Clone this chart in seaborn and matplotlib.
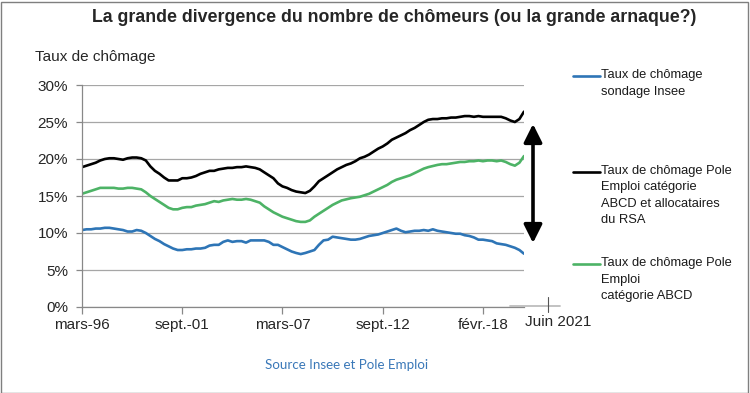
import matplotlib.pyplot as plt
import seaborn as sns
import pandas as pd
from matplotlib.lines import Line2D
from matplotlib.patches import Rectangle

# quarterly values, mars 1996 -> juin 2020
dates = pd.date_range("1996-03-01", "2020-06-01", freq="3MS")

insee = [10.4, 10.5, 10.5, 10.6, 10.6, 10.7, 10.7, 10.6, 10.5, 10.4,
         10.2, 10.2, 10.4, 10.3, 10.0, 9.6, 9.2, 8.9, 8.5, 8.2,
         7.9, 7.7, 7.7, 7.8, 7.8, 7.9, 7.9, 8.0, 8.3, 8.4,
         8.4, 8.8, 9.0, 8.8, 8.9, 8.9, 8.7, 9.0, 9.0, 9.0,
         9.0, 8.8, 8.4, 8.4, 8.1, 7.8, 7.5, 7.3, 7.15, 7.3,
         7.5, 7.7, 8.4, 9.0, 9.1, 9.5, 9.4, 9.3, 9.2, 9.1,
         9.1, 9.2, 9.4, 9.6, 9.7, 9.8, 10.0, 10.2, 10.4, 10.6,
         10.3, 10.1, 10.2, 10.3, 10.3, 10.4, 10.3, 10.5, 10.3, 10.2,
         10.1, 10.0, 9.9, 9.9, 9.7, 9.6, 9.4, 9.1, 9.1, 9.0,
         8.9, 8.6, 8.5, 8.4, 8.2, 8.0, 7.7, 7.2]

pe_rsa = [18.9, 19.1, 19.3, 19.5, 19.8, 20.0, 20.1, 20.1, 20.0, 19.9,
          20.1, 20.2, 20.2, 20.1, 19.8, 19.0, 18.4, 18.0, 17.5, 17.1,
          17.1, 17.1, 17.4, 17.4, 17.5, 17.7, 18.0, 18.2, 18.4, 18.4,
          18.6, 18.7, 18.8, 18.8, 18.9, 18.9, 19.0, 18.9, 18.8, 18.6,
          18.2, 17.8, 17.4, 16.7, 16.3, 16.1, 15.8, 15.6, 15.5, 15.4,
          15.7, 16.3, 17.0, 17.4, 17.8, 18.2, 18.6, 18.9, 19.2, 19.4,
          19.7, 20.1, 20.3, 20.6, 21.0, 21.4, 21.7, 22.1, 22.6, 22.9,
          23.2, 23.5, 23.9, 24.2, 24.6, 25.0, 25.3, 25.4, 25.4, 25.5,
          25.5, 25.6, 25.6, 25.7, 25.8, 25.8, 25.7, 25.8, 25.7, 25.7,
          25.7, 25.7, 25.7, 25.5, 25.2, 25.0, 25.4, 26.4]

pe_abcd = [15.3, 15.5, 15.7, 15.9, 16.1, 16.1, 16.1, 16.1, 16.0, 16.0,
           16.1, 16.1, 16.0, 15.9, 15.5, 15.0, 14.6, 14.2, 13.8, 13.4,
           13.2, 13.2, 13.4, 13.5, 13.5, 13.7, 13.8, 13.9, 14.1, 14.3,
           14.2, 14.4, 14.5, 14.6, 14.5, 14.5, 14.6, 14.5, 14.3, 14.1,
           13.6, 13.2, 12.8, 12.5, 12.2, 12.0, 11.8, 11.6, 11.5, 11.5,
           11.7, 12.2, 12.6, 13.0, 13.4, 13.8, 14.1, 14.4, 14.55, 14.7,
           14.8, 14.9, 15.1, 15.3, 15.6, 15.9, 16.2, 16.5, 16.9, 17.2,
           17.4, 17.6, 17.8, 18.1, 18.4, 18.7, 18.9, 19.05, 19.2, 19.3,
           19.3, 19.4, 19.5, 19.6, 19.6, 19.7, 19.7, 19.8, 19.7, 19.8,
           19.8, 19.7, 19.8, 19.6, 19.3, 19.1, 19.5, 20.4]

tick_dates = pd.to_datetime(["1996-03-01", "2001-09-01", "2007-03-01",
                             "2012-09-01", "2018-03-01"])
tick_labels = ["mars-96", "sept.-01", "mars-07", "sept.-12", "févr.-18"]

labels = ["Taux de chômage\nsondage Insee",
          "Taux de chômage Pole\nEmploi catégorie\nABCD et allocataires\ndu RSA",
          "Taux de chômage Pole\nEmploi\ncatégorie ABCD"]
colors = ["#2e75b6", "#000000", "#4db366"]

sns.set_style("white")
plt.rcParams["font.family"] = ["Liberation Sans", "DejaVu Sans"]

W, H = 750, 393
fig = plt.figure(figsize=(7.5, 3.93), dpi=100)
ax = fig.add_axes([82 / W, 1 - 307 / H, (524 - 82) / W, (307 - 85) / H])

for serie, c in zip([insee, pe_rsa, pe_abcd], colors):
    sns.lineplot(x=dates, y=serie, color=c, lw=1.9, ax=ax)

ax.set_ylim(0, 30)
ax.set_xlim(dates[0], dates[-1])
ax.set_yticks(range(0, 31, 5))
ax.set_yticklabels([f"{v}%" for v in range(0, 31, 5)])
ax.set_xticks(tick_dates)
ax.set_xticklabels(tick_labels)
ax.grid(axis="y", color="#a6a6a6", lw=0.9)
ax.set_axisbelow(True)
for s in ["top", "right"]:
    ax.spines[s].set_visible(False)
for s in ["left", "bottom"]:
    ax.spines[s].set_color("#888888")
    ax.spines[s].set_linewidth(0.9)
ax.tick_params(axis="y", length=4, width=0.9, color="#888888", pad=6,
               labelsize=11, labelcolor="#262626", left=True)
ax.tick_params(axis="x", length=5, width=0.9, color="#888888", pad=3,
               labelsize=11, labelcolor="#262626", bottom=True)
ax.set_xlabel("")

# title and y label
fig.text(394 / W, 1 - 18 / H, "La grande divergence du nombre de chômeurs (ou la grande arnaque?)",
         ha="center", va="center", fontsize=12.8, fontweight="bold")
fig.text(35 / W, 1 - 57 / H, "Taux de chômage", ha="left", va="center", fontsize=11)

# legend drawn by hand
leg_y = [76, 172, 264]
for lab, c, y in zip(labels, colors, leg_y):
    fig.add_artist(Line2D([573 / W, 600 / W], [1 - y / H, 1 - y / H], color=c, lw=1.9))
    fig.text(601 / W, 1 - (y - 7) / H, lab, ha="left", va="top", fontsize=9.3,
             linespacing=1.5, color="#1a1a1a")

# double arrow
ax.annotate("", xy=(533 / W, 1 - 243 / H), xytext=(533 / W, 1 - 124 / H),
            xycoords="figure fraction", textcoords="figure fraction",
            arrowprops=dict(arrowstyle="<|-|>,head_length=1.1,head_width=0.55",
                            color="black", lw=2.6, shrinkA=0, shrinkB=0))

# Juin 2021 marker
fig.add_artist(Line2D([510 / W, 560 / W], [1 - 305.5 / H, 1 - 305.5 / H], color="#bdbdbd", lw=1.3))
fig.add_artist(Line2D([548 / W, 548 / W], [1 - 297 / H, 1 - 312 / H], color="#555555", lw=0.8))
fig.text(525 / W, 1 - 322 / H, "Juin 2021", ha="left", va="center", fontsize=11, color="#262626")

# source
fig.text(265 / W, 1 - 365 / H, "Source Insee et Pole Emploi", ha="left", va="center",
         fontsize=9.6, color="#3a78b8", family=["Lato", "DejaVu Sans"])

# frame
fig.add_artist(Rectangle((1 / W, 0.5 / H), 747 / W, 391 / H, transform=fig.transFigure,
                         fill=False, edgecolor="#7f7f7f", lw=1))

fig.savefig("out.png", dpi=100)
